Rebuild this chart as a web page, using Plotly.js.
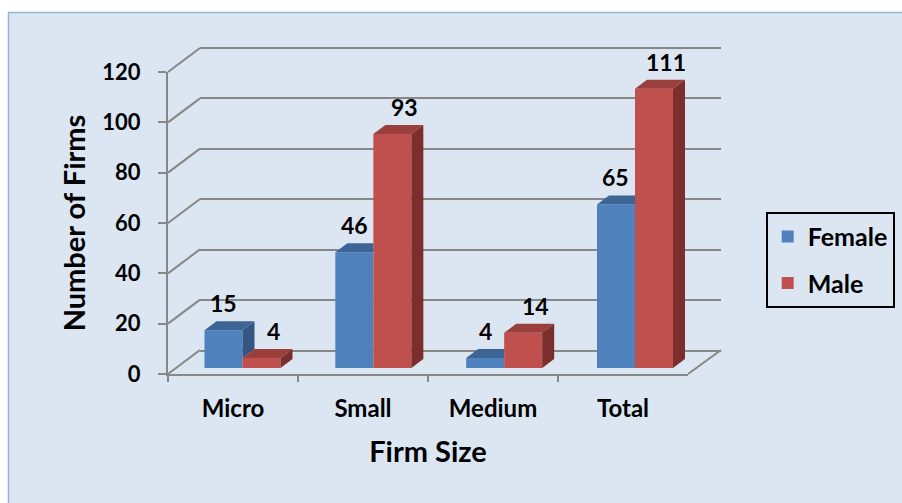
<!DOCTYPE html>
<html><head><meta charset="utf-8">
<script src="https://cdn.plot.ly/plotly-3.0.1.min.js"></script>
<style>html,body{margin:0;padding:0;background:#fff;}#chart{width:902px;height:503px;}</style>
</head><body><div id="chart"></div>
<script>
// ---- data ----
const categories = ['Micro', 'Small', 'Medium', 'Total'];
const female = [15, 46, 4, 65];
const male = [4, 93, 14, 111];
const seriesNames = ['Female', 'Male'];
const yTicks = [0, 20, 40, 60, 80, 100, 120];
const xTitle = 'Firm Size';
const yTitle = 'Number of Firms';

// ---- geometry (pixels) ----
const W = 902, H = 503;
const yMax = 120;
const backPad = 1; // extend back-wall range slightly so edge gridlines are drawn
const backWall = {x0: 200, x1: 721, y0: 351, y1: 48};
const frontPlane = {x0: 168, x1: 688, y0: 374, y1: 72};
const barPlane = {x0: 177.1, x1: 700.4, y0: 368, y1: 66};
const wallShift = {dx: 32, dy: 24};
const barDepth = {dx: 12, dy: 9};
const bargap = 0.419;
const bw = (1 - bargap) / 2;

const colors = {
  femaleFront: '#4F81BD', femaleTop: '#3C6596', femaleSide: '#335683',
  maleFront: '#C0504D', maleTop: '#9A3F3C', maleSide: '#7B2E2C',
  grid: '#878787', panel: '#DCE6F2', panelLine: '#95B3D7'
};

function xDom(p) { return [p.x0 / W, p.x1 / W]; }
function yDom(p) { return [(H - p.y0) / H, (H - p.y1) / H]; }
const backScale = (backWall.y0 - backWall.y1) / yMax;
const backDomY = [(H - (backWall.y0 + backPad * backScale)) / H, (H - (backWall.y1 - backPad * backScale)) / H];

const idx = categories.map((c, i) => i);

const traces = [
  {type: 'scatter', mode: 'none', x: yTicks.map(() => 0.5), y: yTicks, xaxis: 'x', yaxis: 'y', showlegend: false, hoverinfo: 'skip'},
  {type: 'scatter', mode: 'none', x: categories, y: female, xaxis: 'x2', yaxis: 'y2', showlegend: false, hoverinfo: 'skip'},
  {type: 'bar', name: seriesNames[0], x: idx, y: female, xaxis: 'x3', yaxis: 'y3', legendgroup: 'f',
   marker: {color: colors.femaleFront, line: {width: 0}}, hoverinfo: 'skip'},
  {type: 'bar', name: seriesNames[1], x: idx, y: male, xaxis: 'x3', yaxis: 'y3', legendgroup: 'm',
   marker: {color: colors.maleFront, line: {width: 0}}, hoverinfo: 'skip'}
];

// pixel->data conversions on bar plane
const pxPerX = (barPlane.x1 - barPlane.x0) / 4;
const pxPerY = (barPlane.y0 - barPlane.y1) / yMax;
const ddx = barDepth.dx / pxPerX, ddy = barDepth.dy / pxPerY;

const shapes = [];
// background panel
shapes.push({type: 'rect', xref: 'paper', yref: 'paper', x0: 8.5 / W, x1: 1.02, y0: -0.02, y1: (H - 12.5) / H,
  fillcolor: colors.panel, line: {color: colors.panelLine, width: 1.5}, layer: 'below'});
// left wall diagonals (anchored on the front axis, in domain units so they are not clipped)
yTicks.forEach(t => {
  shapes.push({type: 'line', xref: 'x2 domain', yref: 'y2 domain', xsizemode: 'pixel', ysizemode: 'pixel',
    xanchor: 0, yanchor: t / yMax, x0: 0, y0: 0, x1: wallShift.dx, y1: wallShift.dy,
    line: {color: colors.grid, width: 2}, layer: 'below'});
});
// floor right diagonal
shapes.push({type: 'line', xref: 'x2 domain', yref: 'y2 domain', xsizemode: 'pixel', ysizemode: 'pixel',
  xanchor: 1, yanchor: 0, x0: 0, y0: 0, x1: wallShift.dx + 1, y1: wallShift.dy,
  line: {color: colors.grid, width: 2}, layer: 'below'});

function poly(pts) { return 'M' + pts.map(p => p[0] + ',' + p[1]).join(' L') + ' Z'; }
function face(path, color) {
  return {type: 'path', xref: 'x3', yref: 'y3', path: path, fillcolor: color, line: {width: 0}, layer: 'above'};
}
// female faces
idx.forEach(i => {
  const v = female[i], m = male[i];
  const xl = i - bw, xr = i;
  if (m >= v) {
    shapes.push(face(poly([[xl, v], [xr, v], [xr, v + ddy], [xl + ddx, v + ddy]]), colors.femaleTop));
  } else {
    shapes.push(face(poly([[xr, m], [xr, v], [xr + ddx, v + ddy], [xr + ddx, m + ddy]]), colors.femaleSide));
    shapes.push(face(poly([[xl, v], [xr, v], [xr + ddx, v + ddy], [xl + ddx, v + ddy]]), colors.femaleTop));
  }
});
// male faces
idx.forEach(i => {
  const v = male[i];
  const xl = i, xr = i + bw;
  shapes.push(face(poly([[xl, v], [xr, v], [xr + ddx, v + ddy], [xl + ddx, v + ddy]]), colors.maleTop));
  shapes.push(face(poly([[xr, 0], [xr, v], [xr + ddx, v + ddy], [xr + ddx, ddy]]), colors.maleSide));
});

const annotations = [];
idx.forEach(i => {
  annotations.push({xref: 'x3', yref: 'y3', x: i - bw / 2, y: female[i], text: String(female[i]),
    showarrow: false, yanchor: 'middle', xanchor: 'center', yshift: 27, xshift: 0, font: {size: 23}});
  annotations.push({xref: 'x3', yref: 'y3', x: i + bw / 2, y: male[i], text: String(male[i]),
    showarrow: false, yanchor: 'middle', xanchor: 'center', yshift: 27, xshift: 12, font: {size: 23}});
});

const hidden = {showgrid: false, showline: false, showticklabels: false, ticks: '', zeroline: false, automargin: false, fixedrange: true};

const layout = {
  width: W, height: H,
  margin: {l: 0, r: 0, t: 0, b: 0},
  paper_bgcolor: '#ffffff', plot_bgcolor: 'rgba(0,0,0,0)',
  font: {family: 'Lato, "Open Sans", sans-serif', size: 22, color: '#000000', weight: 'bold'},
  barmode: 'group', bargap: bargap, bargroupgap: 0,
  showlegend: true,
  legend: {x: 765.7 / W, y: (H - 211.7) / H, xanchor: 'left', yanchor: 'top',
    bordercolor: '#000000', borderwidth: 2, bgcolor: 'rgba(0,0,0,0)',
    font: {size: 25, weight: 'bold'}, tracegroupgap: 11, traceorder: 'grouped'},
  xaxis: Object.assign({domain: xDom(backWall), range: [0, 1], anchor: 'y'}, hidden),
  yaxis: Object.assign({}, hidden, {domain: backDomY, range: [-backPad, yMax + backPad], anchor: 'x', tickvals: yTicks,
    showgrid: true, gridcolor: colors.grid, gridwidth: 2}),
  xaxis2: {domain: xDom(frontPlane), range: [-0.5, categories.length - 0.5], anchor: 'y2', type: 'category',
    showline: true, linecolor: colors.grid, linewidth: 2, ticks: 'outside', tickson: 'boundaries',
    ticklen: 6, tickwidth: 2, tickcolor: colors.grid, showgrid: false, zeroline: false, automargin: false,
    tickfont: {size: 24, weight: 'bold'}, ticklabelstandoff: 12,
    title: {text: xTitle, font: {size: 29, weight: 'bold'}, standoff: 21}, fixedrange: true},
  yaxis2: {domain: yDom(frontPlane), range: [0, yMax], anchor: 'x2', tickvals: yTicks,
    showline: true, linecolor: colors.grid, linewidth: 2, ticks: 'outside', ticklen: 8, tickwidth: 2,
    tickcolor: colors.grid, showgrid: false, zeroline: false, automargin: false,
    tickfont: {size: 22, weight: 'bold'}, ticklabelstandoff: 13,
    title: {text: yTitle, font: {size: 29, weight: 'bold'}, standoff: 8}, fixedrange: true},
  xaxis3: Object.assign({domain: xDom(barPlane), range: [-0.5, categories.length - 0.5], anchor: 'y3'}, hidden),
  yaxis3: Object.assign({domain: yDom(barPlane), range: [0, yMax], anchor: 'x3'}, hidden),
  shapes: shapes,
  annotations: annotations
};

Plotly.newPlot('chart', traces, layout, {staticPlot: true, displayModeBar: false});
</script></body></html>
